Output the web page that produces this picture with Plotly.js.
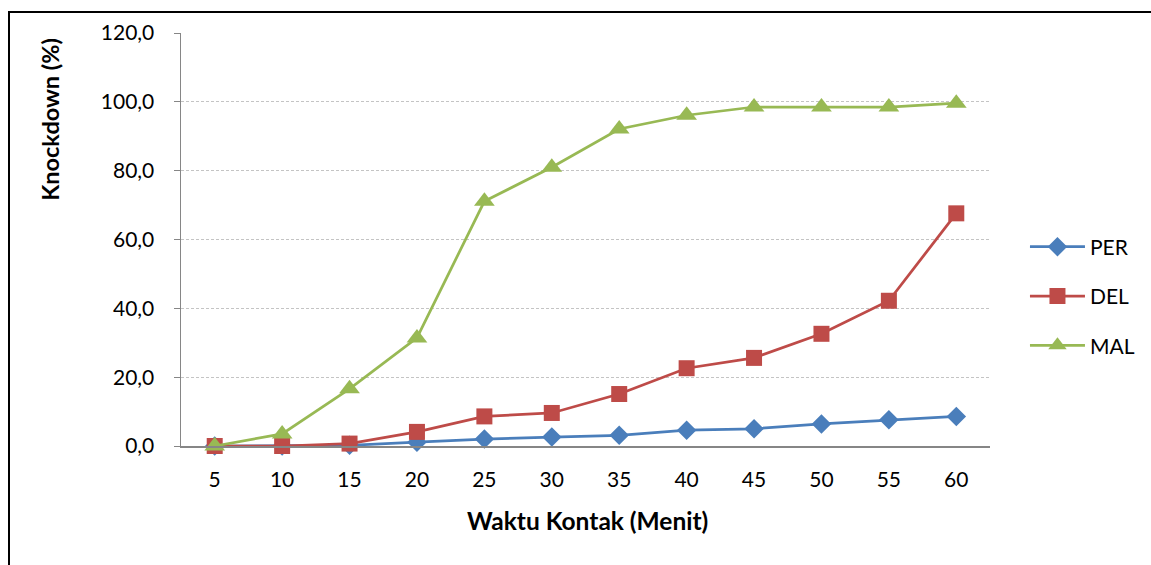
<!DOCTYPE html>
<html><head><meta charset="utf-8">
<script src="https://cdn.plot.ly/plotly-3.0.1.min.js"></script>
<style>
html,body{margin:0;padding:0;background:#fff;}
#wrap{position:relative;width:1151px;height:565px;overflow:hidden;}
#chart{position:absolute;left:0;top:0;width:1151px;height:565px;}
#frame{position:absolute;left:8px;top:11px;width:1200px;height:600px;border-left:2px solid #000;border-top:2px solid #000;pointer-events:none;}
</style></head>
<body><div id="wrap"><div id="chart"></div><div id="frame"></div></div>
<script>
const categories = ['5','10','15','20','25','30','35','40','45','50','55','60'];
const perValues = [0.0, 0.0, 0.2, 1.1, 2.0, 2.6, 3.1, 4.6, 5.0, 6.4, 7.6, 8.6];
const delValues = [0.0, 0.0, 0.7, 4.1, 8.6, 9.6, 15.1, 22.6, 25.6, 32.6, 42.2, 67.6];
const malValues = [0.0, 3.5, 16.6, 31.4, 71.1, 81.0, 92.1, 96.1, 98.5, 98.5, 98.5, 99.6];
const yTicks = [0, 20, 40, 60, 80, 100, 120];
const seriesNames = ['PER', 'DEL', 'MAL'];

const font = 'Lato, "Open Sans", "Liberation Sans", sans-serif';
function tr(name, y, color, symbol, size, group){
  return {x: categories, y: y, name: name, type: 'scatter', mode: 'lines+markers',
    line: {color: color, width: 2.75},
    marker: {color: color, symbol: symbol, size: size},
    legendgroup: group, cliponaxis: false};
}
const data = [
  tr(seriesNames[0], perValues, '#4A7EBB', 'diamond', 15, 'a'),
  tr(seriesNames[1], delValues, '#BE4B48', 'square', 16, 'b'),
  tr(seriesNames[2], malValues, '#98B954', 'triangle-up', 18, 'c')
];
const layout = {
  width: 1151, height: 565,
  margin: {l: 181, r: 161, t: 33, b: 119},
  paper_bgcolor: '#fff', plot_bgcolor: '#fff',
  separators: ',.',
  font: {family: font, size: 21, color: '#000'},
  showlegend: true,
  legend: {xref: 'container', yref: 'container', x: 0.8905, y: 0.599, xanchor: 'left', yanchor: 'top',
    traceorder: 'grouped', tracegroupgap: 19,
    itemwidth: 55, font: {family: font, size: 21, color: '#000'}, bgcolor: 'rgba(0,0,0,0)'},
  xaxis: {type: 'category', range: [-0.5, 11.5], showgrid: false, showline: true, linecolor: '#868686', linewidth: 2,
    ticks: '', ticklabelstandoff: 14, tickfont: {family: font, size: 21, color: '#000'}, zeroline: false, fixedrange: true},
  yaxis: {range: [0, 120], tickvals: yTicks, tickformat: '.1f', showline: true, linecolor: '#868686', linewidth: 1.5,
    ticks: 'outside', ticklen: 6, tickcolor: '#868686', ticklabelstandoff: 15,
    showgrid: true, gridcolor: '#c4c4c4', griddash: '3px,2px', gridwidth: 1,
    zeroline: false, tickfont: {family: font, size: 21, color: '#000'}},
  annotations: [
    {text: '<b>Knockdown (%)</b>', xref: 'paper', yref: 'paper', x: -0.162, y: 0.792, textangle: -90,
      xanchor: 'center', yanchor: 'middle',
      showarrow: false, font: {family: font, size: 23.5, color: '#000'}},
    {text: '<b>Waktu Kontak (Menit)</b>', xref: 'paper', yref: 'paper', x: 0.5019, y: -0.1792,
      xanchor: 'center', yanchor: 'middle',
      showarrow: false, font: {family: font, size: 24.5, color: '#000'}}
  ]
};
Plotly.newPlot('chart', data, layout, {displayModeBar: false, staticPlot: true});
</script></body></html>
